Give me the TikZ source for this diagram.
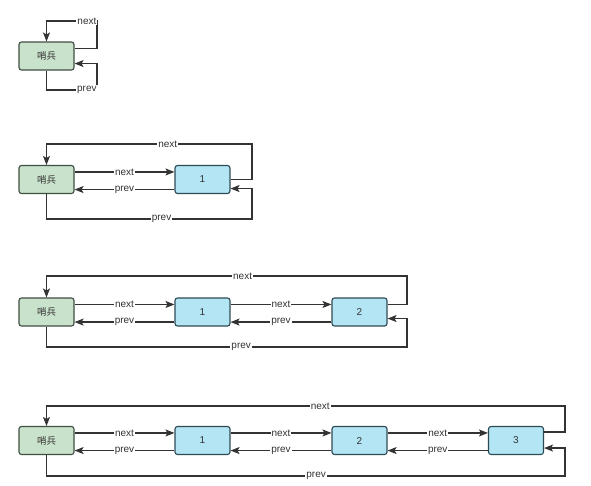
\documentclass[tikz,border=0pt]{standalone}
\usepackage{fontspec}
\setmainfont{Liberation Sans}
\newfontfamily\cjk{Noto Sans CJK SC}
\usepackage{tikz}
\usetikzlibrary{arrows.meta, positioning}
\usetikzlibrary{calc}

\definecolor{sentfill}{HTML}{C9E2CB}
\definecolor{sentline}{HTML}{3F4F41}
\definecolor{itemfill}{HTML}{B3E5F5}
\definecolor{itemline}{HTML}{2E4A55}
\definecolor{linec}{HTML}{333333}

\tikzset{
    sentinel/.style={draw=sentline, fill=sentfill, line width=1.1pt, rounded corners=2.5pt,
        minimum width=55pt, minimum height=28pt, inner sep=0pt, text=linec, font=\cjk\fontsize{9.5}{11}\selectfont},
    item/.style={draw=itemline, fill=itemfill, line width=1.1pt, rounded corners=2.5pt,
        minimum width=55pt, minimum height=28pt, inner sep=0pt, text=linec, font=\fontsize{10}{12}\selectfont},
    link/.style={draw=linec, line width=1.2pt, -{Stealth[length=9pt,width=7pt,inset=2pt]}},
    lbl/.style={fill=white, inner sep=1pt, text=linec, font=\fontsize{10}{12}\selectfont}
}

\begin{document}
\begin{tikzpicture}[x=1pt, y=-1pt]
    \useasboundingbox (0,0) rectangle (591,485);

    % only the sentinel
    \node[sentinel](s1) at (46.5,56) {哨兵};
    \draw[link] ([yshift=-7pt]s1.north east) -| (97,21) -| node[lbl,pos=0.1] {next} (s1.north);
    \draw[link] (s1.south) |- node[lbl,pos=0.9] {prev} (97,90) |- ([yshift=7pt]s1.south east);

    % one element
    \node[sentinel](s2) at (46.5,179.5) {哨兵};
    \node[item](a2) at (202.5,179.5) {1};
    \draw[link] ([yshift=-7pt]s2.north east) -- node[lbl] {next} ([yshift=-7pt]a2.north west);
    \draw[link] ([yshift=4.5pt]a2.south west) -- node[lbl] {prev} ([yshift=4.5pt]s2.south east);
    \draw[link] (a2.east) -| (252,144) -| node[lbl,pos=0.205] {next} (s2.north);
    \draw[link] (s2.south) |- node[lbl,pos=0.78] {prev} (252,219) |- ([yshift=5.5pt]a2.south east);

    % two elements
    \node[sentinel](s3) at (46.5,312) {哨兵};
    \node[item](a3) at (202.5,312) {1};
    \node[item](b3) at (359.5,312) {2};
    \draw[link] ([yshift=-7pt]s3.north east) -- node[lbl] {next} ([yshift=-7pt]a3.north west);
    \draw[link] ([yshift=4.5pt]a3.south west) -- node[lbl] {prev} ([yshift=4.5pt]s3.south east);
    \draw[link] ([yshift=-7pt]a3.north east) -- node[lbl] {next} ([yshift=-7pt]b3.north west);
    \draw[link] ([yshift=4.5pt]b3.south west) -- node[lbl] {prev} ([yshift=4.5pt]a3.south east);
    \draw[link] ([yshift=-7pt]b3.north east) -| (407,276) -| node[lbl,pos=0.228] {next} (s3.north);
    \draw[link] (s3.south) |- node[lbl,pos=0.77] {prev} (407,347) |- ([yshift=8pt]b3.south east);

    % three elements
    \node[sentinel](s4) at (46.5,440.5) {哨兵};
    \node[item](a4) at (202.5,440.5) {1};
    \node[item](b4) at (359.5,440.5) {2};
    \node[item](c4) at (516,440.5) {3};
    \draw[link] ([yshift=-7pt]s4.north east) -- node[lbl] {next} ([yshift=-7pt]a4.north west);
    \draw[link] ([yshift=4.5pt]a4.south west) -- node[lbl] {prev} ([yshift=4.5pt]s4.south east);
    \draw[link] ([yshift=-7pt]a4.north east) -- node[lbl] {next} ([yshift=-7pt]b4.north west);
    \draw[link] ([yshift=4.5pt]b4.south west) -- node[lbl] {prev} ([yshift=4.5pt]a4.south east);
    \draw[link] ([yshift=-7pt]b4.north east) -- node[lbl] {next} ([yshift=-7pt]c4.north west);
    \draw[link] ([yshift=4.5pt]c4.south west) -- node[lbl] {prev} ([yshift=4.5pt]b4.south east);
    \draw[link] ([yshift=-6pt]c4.north east) -| (565,406) -| node[lbl,pos=0.236] {next} (s4.north);
    \draw[link] (s4.south) |- node[lbl,pos=0.76] {prev} (565,476) |- ([yshift=7pt]c4.south east);
\end{tikzpicture}
\end{document}
